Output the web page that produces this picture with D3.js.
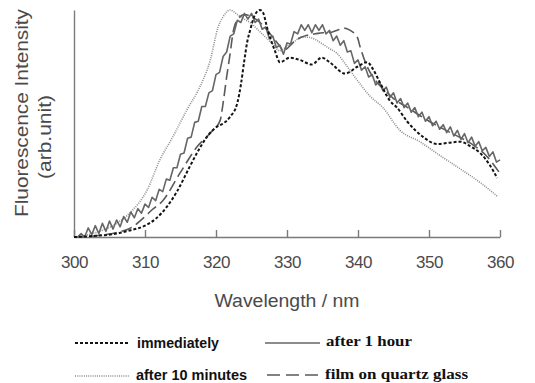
<!DOCTYPE html>
<html>
<head>
<meta charset="utf-8">
<script src="https://cdn.jsdelivr.net/npm/d3@7"></script>
<style>
  html, body { margin: 0; padding: 0; background: #fff; }
  svg { display: block; }
</style>
</head>
<body>
<svg id="chart" width="535" height="383"></svg>
<script>
// ---- data (wavelength nm, intensity arb. units 0-100) ----
const xTicks = [300, 310, 320, 330, 340, 350, 360];
const xLabel = "Wavelength / nm";
const yLabel1 = "Fluorescence Intensity";
const yLabel2 = "(arb.unit)";
const seriesNames = ["immediately", "after 1 hour", "after 10 minutes", "film on quartz glass"];

const immediatelyWl = [300,303,306,308,310,311.5,313,314.5,316.3,317.5,318.7,320.1,321,322,323,323.5,324,324.4,324.8,325.5,326.2,326.6,327.3,328.3,329,330.4,331.8,333.5,334.9,336,338.2,339.9,341.3,342.1,343.1,344.5,345.5,346.9,349.2,351.1,352.8,354.4,355.8,357.2,358.5,359.6];
const immediatelyVal = [0,0.5,1.5,3,5,8,13,20,31,38,44,48.5,50,53,59,67,78,86,91,98,100,99,91,82,77,79,78,76,79,77,72,75,77,74,68,60,57,51,44,41,41.5,42,40,37,32,26];

const after1hWl = d3.range(300, 360.01, 0.5);
const after1hVal = [0,0,1.5,0,4,1,5,1.5,6,2.5,7,3.5,7.5,4.5,9,6.5,11,8.5,12.5,10.5,
  14.5,13,17.5,16,21,20,25.5,25,30.5,30.5,36.5,37,43.5,44,50.5,51,57.5,57.5,63.5,64.5,
  71.5,72.5,79.5,81.5,88.5,89.5,95.5,94.5,98.5,96,98.5,94.5,96,91.5,92.5,87.5,88.5,83.5,84.5,80.5,
  85.5,85,90.5,89.5,93.5,91,93.5,90,93.5,91,93.5,89.5,91,86.5,88.5,84.5,86.5,81.5,82,76.5,
  78,73.5,75,70.5,71.5,67,68.5,64.5,66,61.5,63.5,59,61,57,59,55,57,53,55,51,
  53,49,51,47.5,49.5,46,48.5,44.5,47,43,45.5,41.5,44,40,42,38,39.5,35.5,37.5,33,34];

const after10Wl = [300,302,304,306,308,310.3,312.1,313.9,315.9,317.7,319.2,320.3,321,322,323,324,325,326,327,328,329,330,331,332,333,334,335,336,337,338.5,339.9,341.7,343.5,345.9,348.7,351.5,354.4,357.2,359.6];
const after10Val = [0,1,3,6,11,20.7,34,44,56,66,78,92.5,97,100,98,96,94,91,88,85,82,84,86,88,88,87,85,83,81,75,69,62,57,47,42,36,30,24,18];

const quartzWl = [300,303,306,308,310,311,312.5,314.9,317.3,319.2,320.6,321,321.5,322,322.4,323,324,325,326,327,328,329,329.5,330,331,332,333,334,335,336,337,338,338.9,339.9,340.3,341.3,342,343,344,345,347,350,353,356,358,360];
const quartzVal = [0,0.5,2,4,9,12,16,28,39.6,45.8,51.5,59,70.5,81,90,95.6,98,97,95,92,88,84,82,83,86,88,89,89.5,90,90,91,92,91,88,83.7,75,71,67,64,61,57,51,46,41,36,28];

// ---- layout ----
const svg = d3.select("#chart");
const x = d3.scaleLinear().domain([300, 360]).range([74, 500]);
const y = d3.scaleLinear().domain([0, 100]).range([237, 10]);

const axisColor = "#7a7a7a";

// x axis with inward ticks
const gx = svg.append("g").attr("transform", "translate(0,237)")
  .call(d3.axisBottom(x).tickValues(xTicks).tickFormat(d3.format("d"))
        .tickSizeInner(-7).tickSizeOuter(0).tickPadding(19));
gx.select(".domain").attr("stroke", axisColor).attr("stroke-width", 1.4);
gx.selectAll(".tick line").attr("stroke", axisColor).attr("stroke-width", 1.4);
gx.selectAll(".tick text").attr("fill", "#4a4a4a")
  .style("font-family", "'Liberation Sans', Arial, sans-serif")
  .style("font-size", "17px").attr("letter-spacing", "-0.5");

// y axis (line only)
const gy = svg.append("g").attr("transform", "translate(74,0)")
  .call(d3.axisLeft(y).tickValues([]).tickSizeOuter(0));
gy.select(".domain").attr("stroke", axisColor).attr("stroke-width", 1.4);

// axis titles
svg.append("text").attr("x", 287).attr("y", 307).attr("text-anchor", "middle")
  .attr("fill", "#4a4a4a").style("font-family", "'Liberation Sans', Arial, sans-serif")
  .style("font-size", "18px").attr("textLength", 145).attr("lengthAdjust", "spacingAndGlyphs")
  .text(xLabel);
svg.append("text").attr("transform", "translate(28,113) rotate(-90)").attr("text-anchor", "middle")
  .attr("fill", "#4a4a4a").style("font-family", "'Liberation Sans', Arial, sans-serif")
  .style("font-size", "18px").attr("textLength", 208).attr("lengthAdjust", "spacingAndGlyphs")
  .text(yLabel1);
svg.append("text").attr("transform", "translate(51,137) rotate(-90)").attr("text-anchor", "middle")
  .attr("fill", "#4a4a4a").style("font-family", "'Liberation Sans', Arial, sans-serif")
  .style("font-size", "18px").attr("textLength", 84).attr("lengthAdjust", "spacingAndGlyphs")
  .text(yLabel2);

// ---- series ----
const styles = {
  "immediately": { stroke: "#141414", width: 2, dash: "3,2" },
  "after 1 hour": { stroke: "#666666", width: 1.6, dash: null },
  "after 10 minutes": { stroke: "#8c8c8c", width: 1.6, dash: "1,1.2" },
  "film on quartz glass": { stroke: "#5a5a5a", width: 1.6, dash: "11,5" }
};
const seriesData = {
  "immediately": d3.zip(immediatelyWl, immediatelyVal),
  "after 1 hour": d3.zip(after1hWl, after1hVal),
  "after 10 minutes": d3.zip(after10Wl, after10Val),
  "film on quartz glass": d3.zip(quartzWl, quartzVal)
};
const line = d3.line().x(d => x(d[0])).y(d => y(d[1]));
const lineSmooth = d3.line().x(d => x(d[0])).y(d => y(d[1])).curve(d3.curveMonotoneX);

const drawOrder = ["after 10 minutes", "film on quartz glass", "after 1 hour", "immediately"];
drawOrder.forEach(name => {
  const s = styles[name];
  svg.append("path").datum(seriesData[name])
    .attr("d", name === "after 1 hour" ? line : lineSmooth)
    .attr("fill", "none").attr("stroke", s.stroke).attr("stroke-width", s.width)
    .attr("stroke-dasharray", s.dash).attr("stroke-linejoin", "round");
});

// ---- legend ----
const legendItems = [
  { name: "immediately", x1: 75, x2: 130, ly: 343, tx: 137, ty: 348, w: 82, font: "'Liberation Sans', Arial, sans-serif" },
  { name: "after 1 hour", x1: 265, x2: 320, ly: 343, tx: 326, ty: 346, w: 86, font: "'Liberation Serif', 'Times New Roman', serif" },
  { name: "after 10 minutes", x1: 75, x2: 129, ly: 376, tx: 136, ty: 380, w: 111, font: "'Liberation Sans', Arial, sans-serif" },
  { name: "film on quartz glass", x1: 267, x2: 322, ly: 375, tx: 325, ty: 379, w: 143, font: "'Liberation Serif', 'Times New Roman', serif" }
];
legendItems.forEach(it => {
  const s = styles[it.name];
  svg.append("line").attr("x1", it.x1).attr("x2", it.x2).attr("y1", it.ly).attr("y2", it.ly)
    .attr("stroke", s.stroke).attr("stroke-width", s.width)
    .attr("stroke-dasharray", it.name === "film on quartz glass" ? "13,6" : s.dash);
  svg.append("text").attr("x", it.tx).attr("y", it.ty).attr("fill", "#111")
    .style("font-family", it.font).style("font-weight", "bold").style("font-size", "14px")
    .attr("textLength", it.w).attr("lengthAdjust", "spacingAndGlyphs")
    .text(it.name);
});
</script>
</body>
</html>
